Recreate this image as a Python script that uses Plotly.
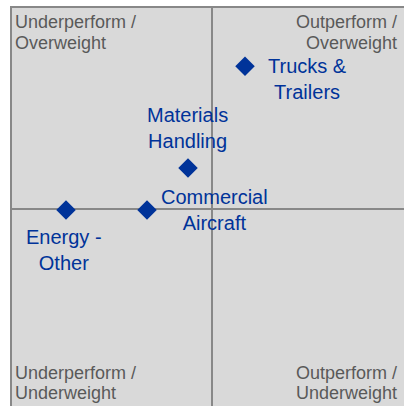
import plotly.graph_objects as go

# sector positions (x: performance, y: weighting)
sectors = ["Trucks &<br>Trailers", "Materials<br>Handling", "Commercial<br>Aircraft", "Energy -<br>Other"]
perf = [0.165, -0.12, -0.325, -0.73]
weight = [0.71, 0.204, -0.005, -0.005]

quadrants = ["Underperform /<br>Overweight", "Outperform /<br>Overweight",
             "Underperform /<br>Underweight", "Outperform /<br>Underweight"]

blue = "#003399"
grey_line = "#888888"

fig = go.Figure()

fig.add_trace(go.Scatter(
    x=perf,
    y=weight,
    mode="markers",
    marker=dict(symbol="diamond", size=15, color=blue),
    showlegend=False,
    hoverinfo="skip",
))

# label placement per point: (xanchor, yanchor, xshift, yshift)
label_pos = [
    ("center", "top", 62, 13),
    ("center", "bottom", -1, 14),
    ("center", "middle", 67, 0),
    ("center", "top", -2, -14),
]
for name, x, y, (xa, ya, xs, ys) in zip(sectors, perf, weight, label_pos):
    fig.add_annotation(
        x=x, y=y, xref="x", yref="y", text=name, showarrow=False,
        xanchor=xa, yanchor=ya, xshift=xs, yshift=ys, align="center",
        font=dict(family="Liberation Sans, Arial", size=20, color=blue),
    )

# quadrant labels in the corners, one annotation per line for tight spacing
corners = [(0, 1, "left", "top"), (1, 1, "right", "top"),
           (0, 0, "left", "bottom"), (1, 0, "right", "bottom")]
for text, (px, py, xa, ya) in zip(quadrants, corners):
    lines = text.split("<br>")
    for i, line in enumerate(lines):
        if ya == "top":
            ys = -14 - 21 * i
        else:
            ys = 13 + 20 * (len(lines) - 1 - i)
        fig.add_annotation(
            x=px, y=py, xref="paper", yref="paper", text=line, showarrow=False,
            xanchor=xa, yanchor="middle",
            xshift=1 if xa == "left" else -5, yshift=ys,
            font=dict(family="Liberation Sans, Arial", size=18, color="#595959"),
        )

axis_common = dict(
    showgrid=False, showticklabels=False, ticks="",
    zeroline=True, zerolinecolor=grey_line, zerolinewidth=2,
    showline=True, linecolor=grey_line, linewidth=2,
)
fig.update_xaxes(range=[-1, 0.96], side="top", **axis_common)
fig.update_yaxes(range=[-0.98, 1], side="left", **axis_common)

fig.update_layout(
    width=404, height=406,
    margin=dict(l=12, r=0, t=8, b=0),
    plot_bgcolor="#d9d9d9",
    paper_bgcolor="white",
)

# drop the default body margin so the figure fills the window exactly
fig.write_html(
    "out.html",
    config={"displayModeBar": False},
    post_script="document.body.style.margin='0';document.body.style.overflow='hidden';",
)
